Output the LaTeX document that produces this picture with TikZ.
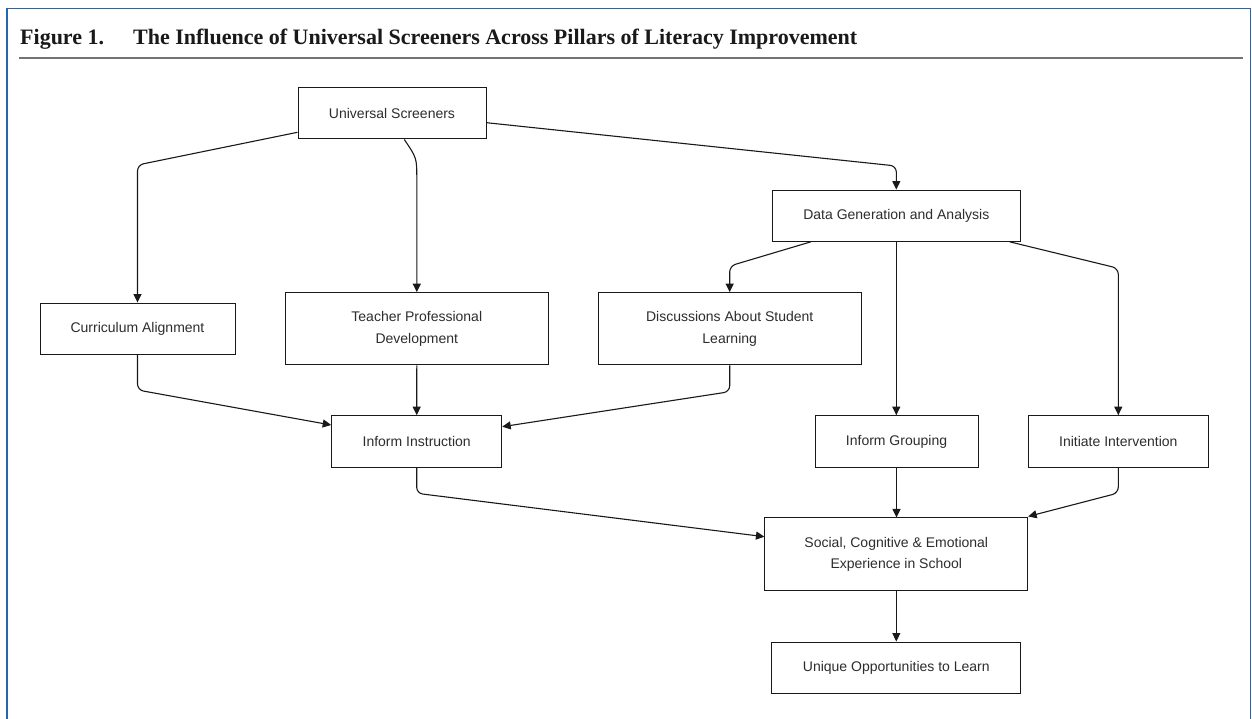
\documentclass[tikz,border=0pt]{standalone}
\usepackage{fontspec}
\setmainfont{Liberation Sans}
\newfontfamily\titlefont{Liberation Serif}
\usetikzlibrary{arrows.meta,calc}
\definecolor{frameblue}{RGB}{38,102,170}
\definecolor{txt}{RGB}{45,45,45}
\definecolor{edgecol}{RGB}{25,25,25}
\begin{document}
\begin{tikzpicture}[x=1pt,y=-1pt,
  box/.style={draw=edgecol, line width=1pt, fill=white, font=\fontsize{14}{21.5}\selectfont, text=txt, align=center, inner sep=0pt},
  arr/.style={draw=edgecol, line width=1.1pt, rounded corners=6pt, -{Triangle[length=8.5pt,width=8pt]}},
  ttl/.style={anchor=base west, inner sep=0pt, text=black!90, font=\titlefont\bfseries\fontsize{22}{26}\selectfont}]
\useasboundingbox (0,0) rectangle (1252,719);
\fill[white] (0,0) rectangle (1252,719);
% frame and title
\draw[frameblue, line width=1.5pt] (7,719) -- (7,8.3) -- (1250.5,8.3) -- (1250.5,719);
\node[ttl] (fig) at (20,44.5) {Figure 1.};
\node[ttl] (title) at (133,44.5) {The Influence of Universal Screeners Across Pillars of Literacy Improvement};
\draw[black!55, line width=2pt] (19,57.7) -- (1243,57.7);
% nodes
\node[box, minimum width=188pt, minimum height=51pt] (us) at (392,113.5) {Universal Screeners};
\node[box, minimum width=248pt, minimum height=51.3pt] (dga) at (896.3,215.7) {Data Generation and Analysis};
\node[box, minimum width=195pt, minimum height=51.3pt] (ca) at (137.5,328.7) {Curriculum Alignment};
\node[box, minimum width=263pt, minimum height=72.3pt] (tpd) at (416.8,328.8) {Teacher Professional\\Development};
\node[box, minimum width=262.7pt, minimum height=72.3pt] (dsl) at (729.7,328.8) {Discussions About Student\\Learning};
\node[box, minimum width=170pt, minimum height=52pt] (ii) at (416.7,441.7) {Inform Instruction};
\node[box, minimum width=163pt, minimum height=52pt] (ig) at (896.5,441.7) {Inform Grouping};
\node[box, minimum width=180pt, minimum height=52pt] (iv) at (1118.3,441.7) {Initiate Intervention};
\node[box, minimum width=262.7pt, minimum height=72.7pt] (sce) at (896.3,554.3) {Social, Cognitive \& Emotional\\Experience in School};
\node[box, minimum width=249.3pt, minimum height=51pt] (uol) at (896.3,667.5) {Unique Opportunities to Learn};
% connectors
\draw[arr] ($(us.west)+(0,18.8)$) -- (ca.north |- 0,165) -- (ca.north);
\draw[arr] ($(us.south)+(12.3,0)$) .. controls (tpd.north |- 0,158) .. (tpd.north |- 0,185) -- (tpd.north);
\draw[arr] ($(us.east)+(0,9.2)$) -- (dga.north |- 0,166) -- (dga.north);
\draw[arr] ($(dga.south west)+(39,0)$) -- (dsl.north |- 0,266) -- (dsl.north);
\draw[arr] (dga.south) -- (dga.south |- ig.north);
\draw[arr] ($(dga.south east)+(-11,0)$) -- (iv.north |- 0,268.3) -- (iv.north);
\draw[arr] (ca.south) -- (ca.south |- 0,390) -- ($(ii.west)+(0,-16.7)$);
\draw[arr] (tpd.south) -- (ii.north);
\draw[arr] (dsl.south) -- (dsl.south |- 0,391.7) -- ($(ii.east)+(0,-15)$);
\draw[arr] (ii.south) -- (ii.south |- 0,493.3) -- ($(sce.west)+(0,-17.6)$);
\draw[arr] (ig.south) -- (ig.south |- sce.north);
\draw[arr] (iv.south) -- (iv.south |- 0,493) -- ($(sce.north east)+(0,-1)$);
\draw[arr] (sce.south) -- (uol.north);
\end{tikzpicture}
\end{document}
